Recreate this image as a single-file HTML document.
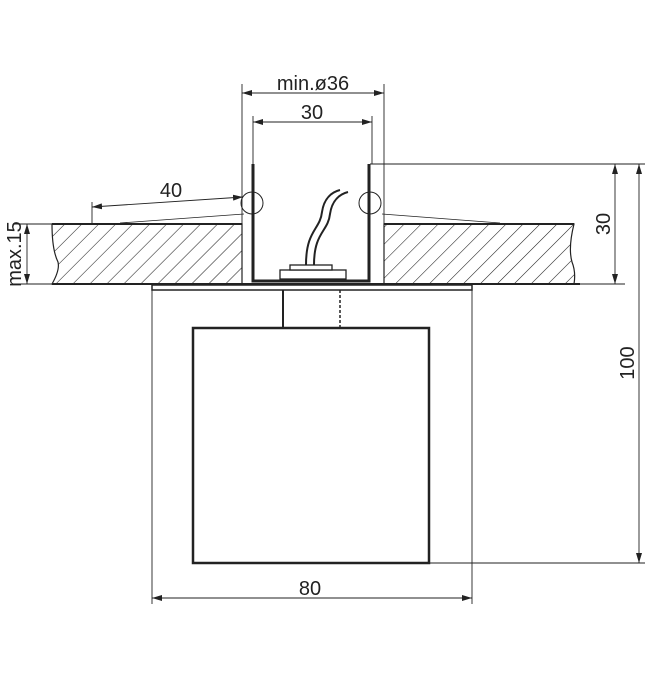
<!DOCTYPE html>
<html><head><meta charset="utf-8"><style>html,body{margin:0;padding:0;background:#fff}svg{display:block}</style></head>
<body>
<svg width="650" height="677" viewBox="0 0 650 677" xmlns="http://www.w3.org/2000/svg" font-family="'Liberation Sans', sans-serif">
<defs>
<pattern id="h" patternUnits="userSpaceOnUse" width="12" height="12" patternTransform="rotate(45)">
<line x1="0" y1="0" x2="0" y2="12" stroke="#222" stroke-width="1.1"/>
</pattern>
<marker id="a" viewBox="0 0 10 6" refX="10" refY="3" markerWidth="10" markerHeight="6" orient="auto-start-reverse" markerUnits="userSpaceOnUse"><path d="M0,0 L10,3 L0,6 z" fill="#222"/></marker>
</defs>
<g stroke="#222" fill="none">
<path d="M52,224 L242,224 L242,284 L52,284 Q60,270 58,262 Q52,250 52,224 Z" fill="url(#h)" stroke-width="1.2"/>
<path d="M384,224 L574,224 Q568,248 572,262 Q576,272 574,284 L384,284 Z" fill="url(#h)" stroke-width="1.2"/>
<line x1="52" y1="224" x2="242" y2="224" stroke-width="2"/>
<line x1="384" y1="224" x2="574" y2="224" stroke-width="2"/>
<line x1="52" y1="284" x2="580" y2="284" stroke-width="2"/>
<line x1="120" y1="223" x2="244" y2="214" stroke-width="0.8"/>
<line x1="382" y1="214" x2="500" y2="223" stroke-width="0.8"/>
<path d="M253,164 L253,281 L369,281 L369,164" stroke-width="3"/>
<path d="M256,164 L256,278 L366,278 L366,164" stroke="#fff" stroke-width="1"/>
<circle cx="252" cy="203" r="11" stroke-width="1"/>
<circle cx="370" cy="203" r="11" stroke-width="1"/>
<rect x="280" y="270" width="66" height="9" fill="#fff" stroke-width="1.3"/>
<rect x="290" y="265" width="42" height="5" fill="#fff" stroke-width="1.3"/>
<path d="M306,265 C306,230 320,230 322,212 C324,198 332,192 340,190" stroke-width="2"/>
<path d="M314,265 C314,232 328,232 330,214 C332,200 340,194 348,192" stroke-width="2"/>
<rect x="152" y="285" width="320" height="5" fill="#fff" stroke-width="1.5"/>
<line x1="283" y1="290" x2="283" y2="328" stroke-width="2"/>
<line x1="340" y1="290" x2="340" y2="328" stroke-width="1.5" stroke-dasharray="3,2"/>
<rect x="193" y="328" width="236" height="235" fill="#fff" stroke-width="2.5"/>
<g stroke-width="0.9">
<line x1="152" y1="290" x2="152" y2="604"/>
<line x1="472" y1="290" x2="472" y2="604"/>
<line x1="242" y1="84" x2="242" y2="224"/>
<line x1="384" y1="84" x2="384" y2="224"/>
<line x1="253" y1="116" x2="253" y2="164"/>
<line x1="372" y1="116" x2="372" y2="164"/>
<line x1="370" y1="164" x2="645" y2="164"/>
<line x1="429" y1="563" x2="645" y2="563"/>
<line x1="574" y1="284" x2="625" y2="284"/>
<line x1="14" y1="224" x2="52" y2="224"/>
<line x1="14" y1="284" x2="52" y2="284"/>
<line x1="92" y1="202" x2="92" y2="224"/>
</g>
<g stroke-width="0.9">
<line x1="242" y1="93" x2="384" y2="93" marker-start="url(#a)" marker-end="url(#a)"/>
<line x1="253" y1="122" x2="372" y2="122" marker-start="url(#a)" marker-end="url(#a)"/>
<line x1="92" y1="207" x2="243" y2="197" marker-start="url(#a)" marker-end="url(#a)"/>
<line x1="27" y1="224" x2="27" y2="284" marker-start="url(#a)" marker-end="url(#a)"/>
<line x1="615" y1="164" x2="615" y2="284" marker-start="url(#a)" marker-end="url(#a)"/>
<line x1="639" y1="164" x2="639" y2="563" marker-start="url(#a)" marker-end="url(#a)"/>
<line x1="152" y1="598" x2="472" y2="598" marker-start="url(#a)" marker-end="url(#a)"/>
</g>
</g>
<g fill="#222" font-size="20">
<text x="313" y="90" text-anchor="middle">min.ø36</text>
<text x="312" y="119" text-anchor="middle">30</text>
<text x="171" y="197" text-anchor="middle">40</text>
<text x="310" y="595" text-anchor="middle">80</text>
<text transform="translate(21,254) rotate(-90)" text-anchor="middle">max.15</text>
<text transform="translate(610,224) rotate(-90)" text-anchor="middle">30</text>
<text transform="translate(634,363) rotate(-90)" text-anchor="middle">100</text>
</g>
</svg>
</body></html>
